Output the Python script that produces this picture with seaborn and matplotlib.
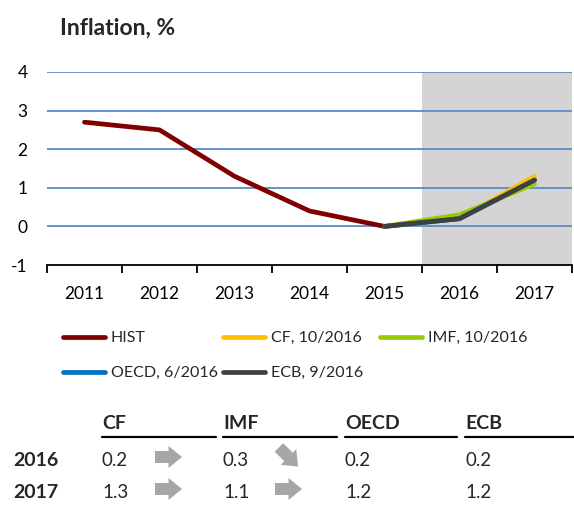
import numpy as np
import pandas as pd
import matplotlib
matplotlib.use("Agg")
import matplotlib.pyplot as plt
from matplotlib.patches import Polygon
from matplotlib.lines import Line2D
import seaborn as sns

# data
years = ['2011', '2012', '2013', '2014', '2015', '2016', '2017']
hist = [2.7, 2.5, 1.3, 0.4, 0.0]
fc_years = ['2015', '2016', '2017']
cf = [0.0, 0.2, 1.3]
imf = [0.0, 0.3, 1.1]
oecd = [0.0, 0.2, 1.2]
ecb = [0.0, 0.2, 1.2]
series_names = ['HIST', 'CF, 10/2016', 'IMF, 10/2016', 'OECD, 6/2016', 'ECB, 9/2016']
colors = ['#800000', '#FFC000', '#99CC00', '#0070C0', '#404040']
forecast_start = '2016'

tab_cols = ['CF', 'IMF', 'OECD', 'ECB']
tab_rows = ['2016', '2017']
tab_vals = {'CF': [0.2, 1.3], 'IMF': [0.3, 1.1], 'OECD': [0.2, 1.2], 'ECB': [0.2, 1.2]}
tab_arrows = {'CF': ['right', 'right'], 'IMF': ['downright', 'right']}

sns.set_theme(style='white')
plt.rcParams['font.family'] = ['Lato', 'DejaVu Sans']

W, H = 574, 511
fig = plt.figure(figsize=(W / 100, H / 100), dpi=100)


def fx(x):
    return x / W


def fy(y):
    return 1 - y / H


ax = fig.add_axes([fx(47), fy(265), fx(572) - fx(47), fy(72) - fy(265)])

pos = {y: i for i, y in enumerate(years)}
rows = []
for name, xs, vals in [(series_names[0], years[:5], hist),
                       (series_names[1], fc_years, cf),
                       (series_names[2], fc_years, imf),
                       (series_names[3], fc_years, oecd),
                       (series_names[4], fc_years, ecb)]:
    for x, v in zip(xs, vals):
        rows.append({'series': name, 'x': pos[x], 'value': v})
df = pd.DataFrame(rows)

sns.lineplot(data=df, x='x', y='value', hue='series', hue_order=series_names,
             palette=colors, linewidth=3.4, ax=ax, legend=False, zorder=3)

ax.axvspan(pos[forecast_start] - 0.5, len(years) - 0.5, color='#D4D4D4', zorder=0.2, lw=0)

ax.set_xlim(-0.5, len(years) - 0.5)
ax.set_ylim(-1, 4)
ax.set_yticks([-1, 0, 1, 2, 3, 4])
ax.set_yticklabels(['-1', '0', '1', '2', '3', '4'], fontsize=12.5, color='black')
for v in [0, 1, 2, 3, 4]:
    ax.axhline(v, color='#5B8BC9', lw=1.3, zorder=1)

ax.set_xticks(np.arange(-0.5, len(years)), minor=False)
ax.set_xticklabels([])
ax.set_xticks(np.arange(len(years)), minor=True)
ax.set_xticklabels(years, minor=True, fontsize=12.5, color='black')
ax.tick_params(axis='x', which='major', direction='out', length=6, width=1.3, color='black', bottom=True)
ax.tick_params(axis='x', which='minor', length=0, pad=15)
ax.tick_params(axis='y', length=0, pad=14)
ax.set_xlabel('')
ax.set_ylabel('')
for s in ['left', 'right', 'top']:
    ax.spines[s].set_visible(False)
ax.spines['bottom'].set_color('black')
ax.spines['bottom'].set_linewidth(1.3)
ax.spines['bottom'].set_zorder(4)

fig.text(fx(60), fy(28), 'Inflation, %', fontsize=16.5, fontweight='bold', va='center', ha='left')

# legend, one column at a time
handles = [Line2D([], [], color=c, lw=3.4, solid_capstyle='round') for c in colors]
leg_cols = [([0, 3], 63), ([1, 4], 223), ([2], 380)]
for idx, xl in leg_cols:
    fig.legend([handles[i] for i in idx], [series_names[i] for i in idx],
               loc='upper left', bbox_to_anchor=(fx(xl), fy(331)),
               frameon=False, fontsize=11.5, handlelength=2.65, handletextpad=0.35,
               labelspacing=1.3, borderaxespad=0, borderpad=0)

# table
col_x = {'CF': 102, 'IMF': 223, 'OECD': 345, 'ECB': 465}
col_end = {'CF': 216, 'IMF': 337, 'OECD': 457, 'ECB': 574}
row_y = [460, 492]
head_y = 423
for c in tab_cols:
    fig.text(fx(col_x[c]), fy(head_y), c, fontsize=14, fontweight='bold', ha='left', va='center')
    fig.add_artist(Line2D([fx(col_x[c]), fx(col_end[c])], [fy(436.5), fy(436.5)],
                          color='black', lw=1.6, transform=fig.transFigure))
    for r, yy in enumerate(row_y):
        fig.text(fx(col_x[c]), fy(yy), f'{tab_vals[c][r]:.1f}', fontsize=13.5, ha='left', va='center')
for r, yy in enumerate(row_y):
    fig.text(fx(13), fy(yy), tab_rows[r], fontsize=14, fontweight='bold', ha='left', va='center')


def block_arrow(cx, cy, direction):
    pts = np.array([[-13.5, -6], [0, -6], [0, -11], [13.5, 0], [0, 11], [0, 6], [-13.5, 6]])
    if direction == 'downright':
        a = np.deg2rad(45)
        rot = np.array([[np.cos(a), -np.sin(a)], [np.sin(a), np.cos(a)]])
        pts = pts @ rot.T
    pts = pts + [cx, cy]
    fpts = [(fx(px), fy(py)) for px, py in pts]
    fig.add_artist(Polygon(fpts, closed=True, color='#A6A6A6', lw=0, transform=fig.transFigure))


for c, xc in [('CF', 168.5), ('IMF', 288.5)]:
    for r, yy in enumerate(row_y):
        block_arrow(xc, yy - 3, tab_arrows[c][r])

fig.savefig('out.png', dpi=100)
